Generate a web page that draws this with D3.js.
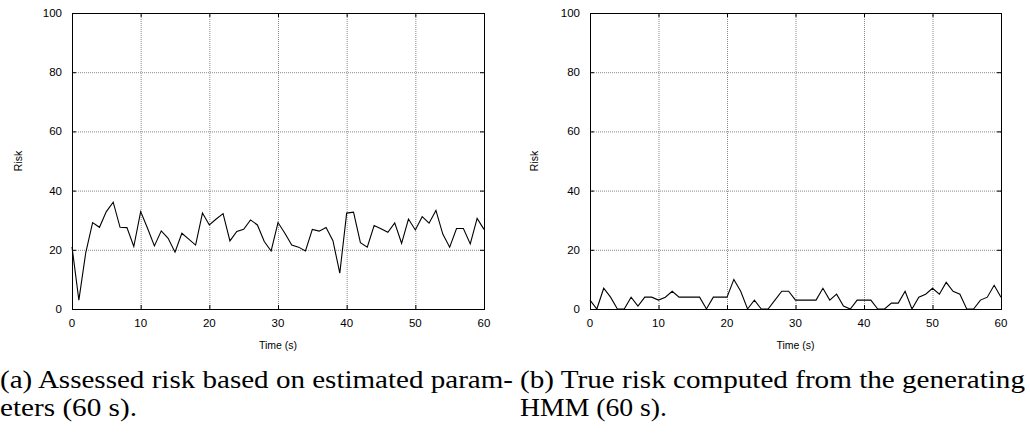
<!DOCTYPE html>
<html lang="en">
<head>
<meta charset="UTF-8">
<script src="https://d3js.org/d3.v7.min.js"></script>
<title>Risk</title>
<style>
  body { margin: 0; background: #fff; }
  .sans { font-family: 'Liberation Sans', 'Arial', 'Helvetica', sans-serif; }
  .serif { font-family: 'Liberation Serif', 'Times New Roman', 'Times', serif; }
</style>
</head>
<body>
<script>
var width = 1030;
var height = 433;

// data, one value per second, 0..60 s
var assessedRisk = [21, 3, 19, 29.2, 27.6, 32.9, 36.1, 27.6, 27.5, 21.1,
  32.9, 27.3, 21.3, 26.4, 23.9, 19.2, 25.6, 23.6, 21.6, 32.4,
  28.4, 30.4, 32.2, 23.0, 26.2, 26.9, 30.1, 28.4, 22.8, 19.6,
  29.2, 25.6, 21.6, 20.9, 19.6, 26.9, 26.3, 27.5, 23.1, 12.1,
  32.4, 32.7, 22.4, 20.9, 28.2, 27.1, 25.9, 29.1, 22.2, 30.4,
  26.7, 31.2, 29.0, 33.3, 25.3, 20.9, 27.2, 27.2, 22.0, 30.6, 26.9];
var trueRisk = [3, 0, 7, 4, 0, 0, 4, 1, 4, 4,
  3, 4, 6, 4, 4, 4, 4, 0, 4, 4,
  4, 10, 6, 0, 3, 0, 0, 3, 6, 6,
  3, 3, 3, 3, 7, 3, 5, 1, 0, 3,
  3, 3, 0, 0, 2, 2, 6, 0, 4, 5,
  7, 5, 9, 6, 5, 0, 0, 3, 4, 8, 4];
var xTicks = [0, 10, 20, 30, 40, 50, 60];
var yTicks = [0, 20, 40, 60, 80, 100];
var captionA = ["(a) Assessed risk based on estimated param-", "eters (60 s)."];
var captionB = ["(b) True risk computed from the generating", "HMM (60 s)."];

var svg = d3.select("body").append("svg")
  .attr("width", width)
  .attr("height", height);

function drawPanel(left, right, values, caption, capX, capW, capW2, riskX) {
  var top = 13, bottom = 309;
  var x = d3.scaleLinear().domain([0, 60]).range([left, right]);
  var y = d3.scaleLinear().domain([0, 100]).range([bottom, top]);
  var g = svg.append("g");

  // grid
  g.selectAll("line.gx").data(xTicks.slice(1, -1)).enter().append("line")
    .attr("x1", d => x(d) + 0.5).attr("x2", d => x(d) + 0.5)
    .attr("y1", top).attr("y2", bottom)
    .attr("stroke", "#888").attr("stroke-width", 1).attr("stroke-dasharray", "1,1");
  g.selectAll("line.gy").data(yTicks.slice(1, -1)).enter().append("line")
    .attr("y1", d => y(d) + 0.5).attr("y2", d => y(d) + 0.5)
    .attr("x1", left).attr("x2", right)
    .attr("stroke", "#888").attr("stroke-width", 1).attr("stroke-dasharray", "1,1");

  // inward ticks on all four sides
  var tl = 4;
  g.selectAll("line.tx").data(xTicks).enter().append("line")
    .attr("x1", d => x(d) + 0.5).attr("x2", d => x(d) + 0.5)
    .attr("y1", bottom).attr("y2", bottom - tl).attr("stroke", "#000");
  g.selectAll("line.tx2").data(xTicks).enter().append("line")
    .attr("x1", d => x(d) + 0.5).attr("x2", d => x(d) + 0.5)
    .attr("y1", top).attr("y2", top + tl).attr("stroke", "#000");
  g.selectAll("line.ty").data(yTicks).enter().append("line")
    .attr("y1", d => y(d) + 0.5).attr("y2", d => y(d) + 0.5)
    .attr("x1", left).attr("x2", left + tl).attr("stroke", "#000");
  g.selectAll("line.ty2").data(yTicks).enter().append("line")
    .attr("y1", d => y(d) + 0.5).attr("y2", d => y(d) + 0.5)
    .attr("x1", right).attr("x2", right - tl).attr("stroke", "#000");

  // tick labels
  g.selectAll("text.xl").data(xTicks).enter().append("text")
    .attr("class", "sans")
    .attr("x", d => x(d)).attr("y", bottom + 18)
    .attr("text-anchor", "middle")
    .style("font-size", "11.5px")
    .text(d => d);
  g.selectAll("text.yl").data(yTicks).enter().append("text")
    .attr("class", "sans")
    .attr("x", left - 10).attr("y", d => y(d) + 4)
    .attr("text-anchor", "end")
    .style("font-size", "11.5px")
    .text(d => d);

  // axis titles
  g.append("text")
    .attr("class", "sans")
    .attr("x", (left + right) / 2).attr("y", bottom + 40)
    .attr("text-anchor", "middle")
    .style("font-size", "10.5px")
    .text("Time (s)");
  g.append("text")
    .attr("class", "sans")
    .attr("transform", "translate(" + riskX + "," + ((top + bottom) / 2) + ") rotate(-90)")
    .attr("text-anchor", "middle")
    .style("font-size", "10.5px")
    .text("Risk");

  // data line
  var line = d3.line().x((d, i) => x(i)).y(d => y(d));
  g.append("path").datum(values)
    .attr("d", line)
    .attr("fill", "none").attr("stroke", "#000").attr("stroke-width", 1.1)
    .attr("stroke-linejoin", "miter");

  // frame
  g.append("rect")
    .attr("x", left + 0.5).attr("y", top + 0.5)
    .attr("width", right - left).attr("height", bottom - top)
    .attr("fill", "none").attr("stroke", "#000").attr("stroke-width", 1);

  // caption
  g.append("text")
    .attr("class", "serif")
    .attr("x", capX).attr("y", 388)
    .attr("textLength", capW).attr("lengthAdjust", "spacingAndGlyphs")
    .style("font-size", "25px")
    .text(caption[0]);
  g.append("text")
    .attr("class", "serif")
    .attr("x", capX).attr("y", 416)
    .attr("textLength", capW2).attr("lengthAdjust", "spacingAndGlyphs")
    .style("font-size", "25px")
    .text(caption[1]);
}

drawPanel(72, 484, assessedRisk, captionA, 0, 513, 137, 21.5);
drawPanel(590, 1001, trueRisk, captionB, 520, 505, 147, 538);
</script>
</body>
</html>
